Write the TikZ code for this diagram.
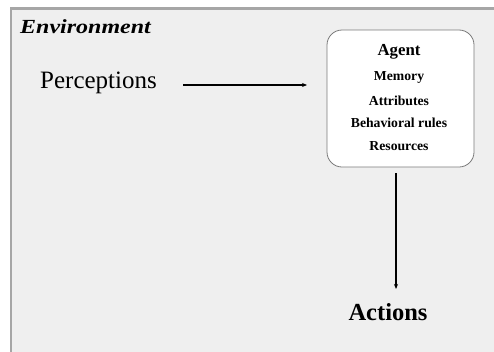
\documentclass[tikz,border=0pt]{standalone}
\usepackage{fontspec}
\setmainfont{Liberation Serif}
\usetikzlibrary{arrows.meta}
\definecolor{envfill}{HTML}{EFEFEF}
\definecolor{envline}{HTML}{A6A6A6}
\definecolor{agentline}{HTML}{7A7A7A}
\tikzset{
  envbox/.style={fill=envfill, draw=envline, line width=2.5pt},
  agentbox/.style={fill=white, draw=agentline, line width=0.8pt, rounded corners=15pt},
  itemtext/.style={font=\fontsize{13.7}{14}\selectfont\bfseries, inner sep=0pt},
  flow/.style={-{Stealth[length=5pt,width=4pt]}, line width=1.3pt, black},
}
\begin{document}
\begin{tikzpicture}[x=1pt,y=-1pt]
\useasboundingbox (0,0) rectangle (494,351);
\clip (0,0) rectangle (494,351);
\draw[envbox] (11,8.5) rectangle (520,380);
\node[anchor=west, inner sep=0pt, font=\fontsize{20}{22}\selectfont\bfseries\itshape] (env) at (20,27) {\scalebox{1.2}[1]{Environment}};
\draw[agentbox] (327,30) rectangle (474,167);
\node[font=\fontsize{16.8}{17}\selectfont\bfseries, inner sep=0pt] (agent) at (399,52) {Agent};
\node[itemtext] (mem) at (399,77) {Memory};
\node[itemtext] (attr) at (399,101) {Attributes};
\node[itemtext] (beh) at (399,123) {Behavioral rules};
\node[itemtext] (res) at (399,146) {Resources};
\node[font=\fontsize{25}{26}\selectfont, inner sep=0pt, anchor=west] (perc) at (40,83) {Perceptions};
\node[font=\fontsize{24.5}{25}\selectfont\bfseries, inner sep=0pt] (act) at (388,312) {Actions};
\coordinate (pstart) at (183,85);
\coordinate (pend) at (307,85);
\draw[flow] (pstart) -- (pend);
\coordinate (astart) at (396,173);
\coordinate (aend) at (396,289);
\draw[flow] (astart) -- (aend);
\end{tikzpicture}
\end{document}
